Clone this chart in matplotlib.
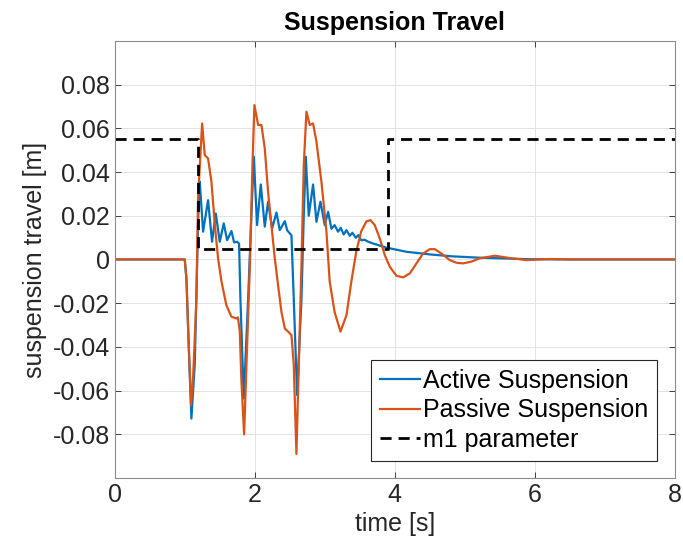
import matplotlib
matplotlib.use("Agg")
import matplotlib.pyplot as plt

plt.rcParams['font.family'] = ['Liberation Sans', 'DejaVu Sans']

# values
t_active = [0, 1.0, 1.024, 1.057, 1.095, 1.143, 1.176, 1.2, 1.214, 1.262, 1.333, 1.39, 1.443,
            1.5, 1.557, 1.605, 1.667, 1.705, 1.748, 1.776, 1.795, 1.843, 1.905, 1.952, 1.986,
            2.033, 2.086, 2.143, 2.19, 2.248, 2.31, 2.357, 2.43, 2.462, 2.5, 2.524, 2.557,
            2.605, 2.667, 2.7, 2.729, 2.771, 2.833, 2.881, 2.938, 3.0, 3.048, 3.095, 3.14,
            3.19, 3.228, 3.27, 3.31, 3.357, 3.395, 3.443, 3.48, 3.52, 3.57, 3.62, 3.69,
            3.88, 4.17, 4.5, 4.83, 5.21, 5.93, 6.5, 8.0]
y_active = [0, 0, -0.009, -0.04, -0.0728, -0.048, -0.0026, 0.028, 0.0356, 0.0127, 0.0271,
            0.0081, 0.021, 0.0081, 0.0165, 0.0088, 0.013, 0.0078, 0.0081, 0.0072, -0.018,
            -0.0636, -0.018, 0.020, 0.047, 0.0157, 0.0343, 0.015, 0.0264, 0.0142, 0.0215,
            0.0134, 0.0175, 0.0134, 0.0119, 0.0111, -0.018, -0.062, -0.018, 0.020, 0.047,
            0.020, 0.0343, 0.0172, 0.0264, 0.0157, 0.0218, 0.014, 0.0157, 0.0127, 0.0145,
            0.0114, 0.0134, 0.0108, 0.0122, 0.0099, 0.0111, 0.0088, 0.009, 0.0081, 0.0073,
            0.0054, 0.0035, 0.0023, 0.0014, 0.0008, 0.0001, 0, 0]

t_passive = [0, 1.0, 1.024, 1.057, 1.09, 1.119, 1.167, 1.19, 1.248, 1.286, 1.333, 1.381,
             1.43, 1.476, 1.524, 1.595, 1.667, 1.738, 1.76, 1.786, 1.81, 1.848, 1.93, 1.967,
             1.995, 2.048, 2.095, 2.143, 2.19, 2.238, 2.286, 2.333, 2.381, 2.43, 2.476,
             2.524, 2.557, 2.595, 2.667, 2.7, 2.738, 2.786, 2.833, 2.881, 2.952, 3.024,
             3.07, 3.14, 3.224, 3.31, 3.38, 3.45, 3.52, 3.595, 3.652, 3.714, 3.786, 3.857,
             3.93, 4.024, 4.12, 4.214, 4.31, 4.405, 4.5, 4.571, 4.667, 4.786, 4.88, 4.976,
             5.095, 5.214, 5.43, 5.65, 5.88, 6.2, 6.5, 8.0]
y_passive = [0, 0, -0.0087, -0.039, -0.0667, -0.054, -0.018, 0.028, 0.0622, 0.0477, 0.0462,
             0.0356, 0.0157, 0.0005, -0.010, -0.021, -0.0262, -0.027, -0.0265, -0.033,
             -0.056, -0.080, -0.0026, 0.043, 0.0706, 0.0615, 0.0615, 0.0508, 0.031, 0.0157,
             0.0005, -0.0118, -0.024, -0.0316, -0.033, -0.0346, -0.048, -0.089, -0.0026,
             0.043, 0.0676, 0.0615, 0.0622, 0.0539, 0.0356, 0.0127, -0.010, -0.024, -0.033,
             -0.0255, -0.010, 0.0036, 0.0128, 0.0174, 0.018, 0.0157, 0.0096, 0.002, -0.0034,
             -0.0075, -0.0082, -0.0064, -0.0018, 0.0027, 0.0047, 0.0047, 0.0027, -0.0003,
             -0.0015, -0.0018, -0.001, 0.0005, 0.0017, 0.0006, -0.0003, 0.0002, 0, 0]

t_m1 = [0, 1.19, 1.19, 3.905, 3.905, 8.0]
y_m1 = [0.055, 0.055, 0.005, 0.005, 0.055, 0.055]

y_ticks = [-0.08, -0.06, -0.04, -0.02, 0, 0.02, 0.04, 0.06, 0.08]
y_tick_labels = ['-0.08', '-0.06', '-0.04', '-0.02', '0', '0.02', '0.04', '0.06', '0.08']
x_ticks = [0, 2, 4, 6, 8]

fig = plt.figure(figsize=(6.83, 5.52), dpi=100)
ax = fig.add_axes([0.168, 0.134, 0.820, 0.792])

ax.plot(t_active, y_active, color='#0072BD', lw=1.6, solid_joinstyle='round',
        label='Active Suspension')
ax.plot(t_passive, y_passive, color='#D95319', lw=1.6, solid_joinstyle='round',
        label='Passive Suspension')
ax.plot(t_m1, y_m1, color='black', lw=2, ls=(0, (4, 2.5)), label='m1 parameter')

ax.set_xlim(0, 8)
ax.set_ylim(-0.1, 0.1)
ax.set_xticks(x_ticks)
ax.set_yticks(y_ticks)
ax.set_yticklabels(y_tick_labels)
ax.tick_params(direction='in', top=True, right=True, labelsize=18, colors='#262626',
               length=4, width=0.6)
for sp in ax.spines.values():
    sp.set_color('#8c8c8c')
    sp.set_linewidth(0.8)
ax.grid(True, color='#e3e3e3', lw=0.7)
ax.set_axisbelow(True)

ax.set_title('Suspension Travel', fontsize=18, fontweight='bold', pad=8)
ax.set_xlabel('time [s]', fontsize=18, color='#262626', labelpad=4)
ax.set_ylabel('suspension travel [m]', fontsize=18, color='#262626', labelpad=4)

leg = ax.legend(loc='lower right', fontsize=18, handlelength=1.6, handletextpad=0.15,
                borderpad=0.35, labelspacing=0.22, borderaxespad=0.7, fancybox=False,
                framealpha=1)
leg.get_frame().set_edgecolor('#262626')
leg.get_frame().set_linewidth(0.8)

fig.savefig('out.png', dpi=100)
